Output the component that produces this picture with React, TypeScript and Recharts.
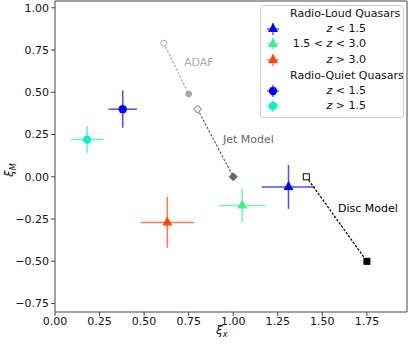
import React from 'react';
import { ScatterChart, Scatter, XAxis, YAxis, ErrorBar, ReferenceLine } from 'recharts';

// radio-loud quasars (triangles)
const rlLabels = ['z < 1.5', '1.5 < z < 3.0', 'z > 3.0'];
const rlX = [1.31, 1.05, 0.63];
const rlY = [-0.06, -0.17, -0.27];
const rlXErr = [0.15, 0.13, 0.15];
const rlYErr = [0.13, 0.10, 0.15];
const rlColors = ['#0000ff', '#3cf08e', '#ff4500'];

// radio-quiet quasars (circles)
const rqLabels = ['z < 1.5', 'z > 1.5'];
const rqX = [0.38, 0.18];
const rqY = [0.40, 0.22];
const rqXErr = [0.08, 0.09];
const rqYErr = [0.11, 0.08];
const rqColors = ['#0000ff', '#10f0c4'];

// model tracks: [start, end]
const adafX = [0.61, 0.75];
const adafY = [0.79, 0.49];
const jetX = [0.80, 1.0];
const jetY = [0.40, 0.0];
const discX = [1.41, 1.75];
const discY = [0.0, -0.5];

const xTicks = [0, 0.25, 0.5, 0.75, 1.0, 1.25, 1.5, 1.75];
const yTicks = [-0.75, -0.5, -0.25, 0, 0.25, 0.5, 0.75, 1.0];

const font = '"DejaVu Sans", sans-serif';
const fmt = (v: number) => (v < 0 ? '\u2212' + Math.abs(v).toFixed(2) : v.toFixed(2));

const pts = (xs: number[], ys: number[]) => xs.map((x, i) => ({ x, y: ys[i] }));

const Tri = (color: string) => (p: any) => (
  <polygon
    points={`${p.cx},${p.cy - 6} ${p.cx - 5},${p.cy + 3} ${p.cx + 5},${p.cy + 3}`}
    fill={color}
  />
);
const Dot = (color: string) => (p: any) => <circle cx={p.cx} cy={p.cy} r={4.2} fill={color} />;

const modelShape = (kind: string, color: string, xs: number[]) => (p: any) => {
  const filled = p.payload && p.payload.x === xs[1];
  const fill = filled ? color : '#fff';
  if (kind === 'circle') return <circle cx={p.cx} cy={p.cy} r={3} fill={fill} stroke={color} strokeWidth={1} />;
  if (kind === 'diamond')
    return (
      <polygon
        points={`${p.cx},${p.cy - 4} ${p.cx + 4},${p.cy} ${p.cx},${p.cy + 4} ${p.cx - 4},${p.cy}`}
        fill={fill}
        stroke={color}
        strokeWidth={1}
      />
    );
  return <rect x={p.cx - 3} y={p.cy - 3} width={6} height={6} fill={fill} stroke={color} strokeWidth={1} />;
};

const LegendMark = ({ color, tri }: { color: string; tri: boolean }) => (
  <svg width={16} height={16} style={{ position: 'absolute', left: 265, top: -8 }}>
    <line x1={2} y1={8} x2={14} y2={8} stroke={color} strokeWidth={1.2} opacity={0.8} />
    <line x1={8} y1={2} x2={8} y2={14} stroke={color} strokeWidth={1.2} opacity={0.8} />
    {tri ? <polygon points="8,2 3,11 13,11" fill={color} /> : <circle cx={8} cy={8} r={4.2} fill={color} />}
  </svg>
);

export default function App() {
  const row = (top: number, children: React.ReactNode) => (
    <div style={{ position: 'absolute', left: 0, top, width: 409, height: 0 }}>{children}</div>
  );
  const label = (text: React.ReactNode) => (
    <div style={{ position: 'absolute', right: 409 - 366, top: -7, fontSize: 11, lineHeight: '14px', whiteSpace: 'nowrap' }}>{text}</div>
  );
  return (
    <div style={{ position: 'absolute', left: 0, top: 0, width: 409, height: 344, background: '#fff', fontFamily: font, color: '#111' }}>
      <ScatterChart width={409} height={344} margin={{ top: 1, right: 2, bottom: 0, left: 0 }}>
        <XAxis
          type="number"
          dataKey="x"
          domain={[0, 1.975]}
          ticks={xTicks}
          tickFormatter={fmt}
          allowDataOverflow
          height={32}
          tickSize={4}
          tickMargin={1}
          stroke="#444"
          tick={{ fill: '#111', fontSize: 11, fontFamily: font }}
        />
        <YAxis
          type="number"
          dataKey="y"
          domain={[-0.8, 1.04]}
          ticks={yTicks}
          tickFormatter={fmt}
          allowDataOverflow
          width={55}
          tickSize={4}
          tickMargin={2}
          stroke="#444"
          tick={{ fill: '#111', fontSize: 11, fontFamily: font }}
        />
        <ReferenceLine x={1.975} stroke="#444" />
        <ReferenceLine y={1.04} stroke="#444" />

        <Scatter
          data={pts(adafX, adafY)}
          line={{ stroke: '#aaaaaa', strokeWidth: 1.2, strokeDasharray: '2.5 1.5' }}
          lineType="joint"
          shape={modelShape('circle', '#aaaaaa', adafX)}
          isAnimationActive={false}
        />
        <Scatter
          data={pts(jetX, jetY)}
          line={{ stroke: '#666666', strokeWidth: 1.2, strokeDasharray: '2.5 1.5' }}
          lineType="joint"
          shape={modelShape('diamond', '#666666', jetX)}
          isAnimationActive={false}
        />
        <Scatter
          data={pts(discX, discY)}
          line={{ stroke: '#000000', strokeWidth: 1.2, strokeDasharray: '2.5 1.5' }}
          lineType="joint"
          shape={modelShape('square', '#000000', discX)}
          isAnimationActive={false}
        />

        {rlX.map((x, i) => (
          <Scatter
            key={'rl' + i}
            data={[{ x, y: rlY[i], ex: rlXErr[i], ey: rlYErr[i] }]}
            shape={Tri(rlColors[i])}
            isAnimationActive={false}
          >
            <ErrorBar dataKey="ex" direction="x" width={0} stroke={rlColors[i]} strokeWidth={1.5} strokeOpacity={0.7} />
            <ErrorBar dataKey="ey" direction="y" width={0} stroke={rlColors[i]} strokeWidth={1.5} strokeOpacity={0.7} />
          </Scatter>
        ))}
        {rqX.map((x, i) => (
          <Scatter
            key={'rq' + i}
            data={[{ x, y: rqY[i], ex: rqXErr[i], ey: rqYErr[i] }]}
            shape={Dot(rqColors[i])}
            isAnimationActive={false}
          >
            <ErrorBar dataKey="ex" direction="x" width={0} stroke={rqColors[i]} strokeWidth={1.5} strokeOpacity={0.7} />
            <ErrorBar dataKey="ey" direction="y" width={0} stroke={rqColors[i]} strokeWidth={1.5} strokeOpacity={0.7} />
          </Scatter>
        ))}
      </ScatterChart>

      {/* model annotations */}
      <div style={{ position: 'absolute', left: 184, top: 56, fontSize: 11, color: '#aaaaaa' }}>ADAF</div>
      <div style={{ position: 'absolute', left: 223, top: 133, fontSize: 11, color: '#666666' }}>Jet Model</div>
      <div style={{ position: 'absolute', left: 338, top: 202, fontSize: 11, color: '#000' }}>Disc Model</div>

      {/* axis labels */}
      <div style={{ position: 'absolute', left: 216, top: 323, fontSize: 12, fontStyle: 'italic' }}>
        ξ<sub style={{ fontSize: 8 }}>x</sub>
      </div>
      <div
        style={{ position: 'absolute', left: 0, top: 162, fontSize: 12, fontStyle: 'italic', transform: 'rotate(-90deg)', transformOrigin: 'center', width: 20, textAlign: 'center' }}
      >
        ξ<sub style={{ fontSize: 8 }}>M</sub>
      </div>

      {/* legend */}
      <div
        style={{ position: 'absolute', left: 260, top: 5, width: 142, height: 111, border: '1px solid #d0d0d0', borderRadius: 3, background: 'rgba(255,255,255,0.8)' }}
      />
      {row(14, <div style={{ position: 'absolute', left: 290, top: -7, fontSize: 11, lineHeight: '14px', whiteSpace: 'nowrap' }}>Radio-Loud Quasars</div>)}
      {rlLabels.map((t, i) =>
        row([29, 44, 60][i], (
          <>
            <LegendMark color={rlColors[i]} tri />
            {label(t.split('z').map((s, j) => (j === 0 ? s : <React.Fragment key={j}><i>z</i>{s}</React.Fragment>)))}
          </>
        ))
      )}
      {row(76, <div style={{ position: 'absolute', left: 290, top: -7, fontSize: 11, lineHeight: '14px', whiteSpace: 'nowrap' }}>Radio-Quiet Quasars</div>)}
      {rqLabels.map((t, i) =>
        row([91, 106][i], (
          <>
            <LegendMark color={rqColors[i]} tri={false} />
            {label(t.split('z').map((s, j) => (j === 0 ? s : <React.Fragment key={j}><i>z</i>{s}</React.Fragment>)))}
          </>
        ))
      )}
    </div>
  );
}
